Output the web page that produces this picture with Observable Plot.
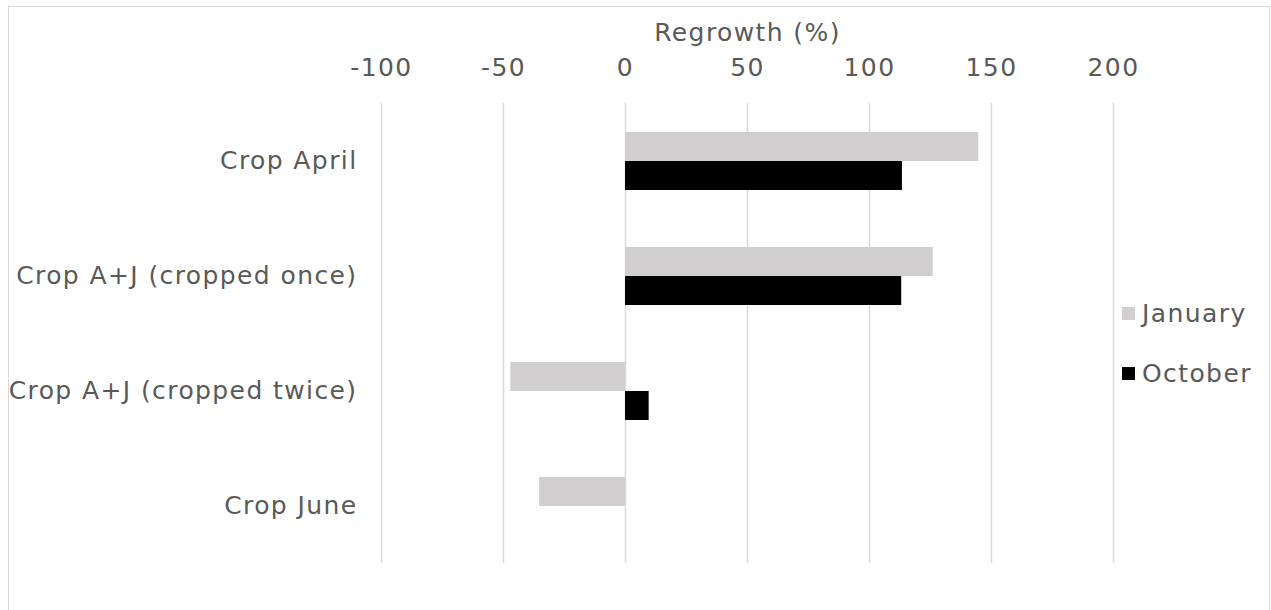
<!DOCTYPE html>
<html>
<head>
<meta charset="utf-8">
<script src="https://cdn.jsdelivr.net/npm/d3@7"></script>
<script src="https://cdn.jsdelivr.net/npm/@observablehq/plot@0.6"></script>
<style>
  html, body { margin: 0; padding: 0; background: #ffffff; }
  #chart { position: relative; width: 1271px; height: 610px; overflow: hidden; font-family: "DejaVu Sans", Verdana, sans-serif; }
  #frame { position: absolute; left: 8px; top: 6px; width: 1262px; height: 640px; border: 1.5px solid #d9d9d9; box-sizing: border-box; pointer-events: none; }
  #legend { position: absolute; left: 1122px; top: 296px; color: #595959; font-size: 25px; letter-spacing: 1.4px; }
  #legend .item { display: flex; align-items: center; height: 34px; margin-bottom: 26px; }
  #legend .swatch { width: 13px; height: 13px; margin-right: 7px; }
  svg { position: absolute; left: 0; top: 0; }
</style>
</head>
<body>
<div id="chart"><div id="frame"></div></div>
<script>
// Regrowth (%) per cropping treatment, measured in January and October
const categories = ["Crop April", "Crop A+J (cropped once)", "Crop A+J (cropped twice)", "Crop June"];
const series = ["January", "October"];
const january = [144.8, 126.1, -47.0, -35.2];
const october = [113.5, 113.2, 9.7, 0];
const xTicks = [-100, -50, 0, 50, 100, 150, 200];
const seriesColors = ["#d0cece", "#000000"];

const rows = [];
categories.forEach((c, i) => {
  rows.push({category: c, series: series[0], value: january[i]});
  rows.push({category: c, series: series[1], value: october[i]});
});

const chart = Plot.plot({
  width: 1271,
  height: 610,
  marginLeft: 381,
  marginRight: 158,
  marginTop: 103,
  marginBottom: 47,
  style: {fontFamily: "'DejaVu Sans', Verdana, sans-serif", fontSize: "25px", letterSpacing: "1.4px", color: "#595959", background: "transparent"},
  x: {domain: [-100, 200]},
  fy: {domain: categories, padding: 0},
  y: {domain: series, paddingInner: 0, paddingOuter: 0.9167, axis: null},
  color: {domain: series, range: seriesColors},
  marks: [
    Plot.ruleX(xTicks, {stroke: "#d9d9d9", strokeWidth: 1.5}),
    Plot.barX(rows, {x: "value", y: "series", fy: "category", fill: "series", inset: 0}),
    Plot.axisX({anchor: "top", ticks: xTicks, tickSize: 0, tickPadding: 28, tickFormat: d => String(d),
      label: "Regrowth (%)", labelAnchor: "center", labelArrow: "none", labelOffset: 80}),
    Plot.axisFy({anchor: "left", tickSize: 0, tickPadding: 24, label: null})
  ]
});

const root = document.getElementById("chart");
root.insertBefore(chart, root.firstChild);

// Legend built from the series names and colours
const legend = d3.select(root).append("div").attr("id", "legend");
const items = legend.selectAll(".item").data(series).join("div").attr("class", "item");
items.append("div").attr("class", "swatch").style("background", (d, i) => seriesColors[i]);
items.append("span").text(d => d);
</script>
</body>
</html>
